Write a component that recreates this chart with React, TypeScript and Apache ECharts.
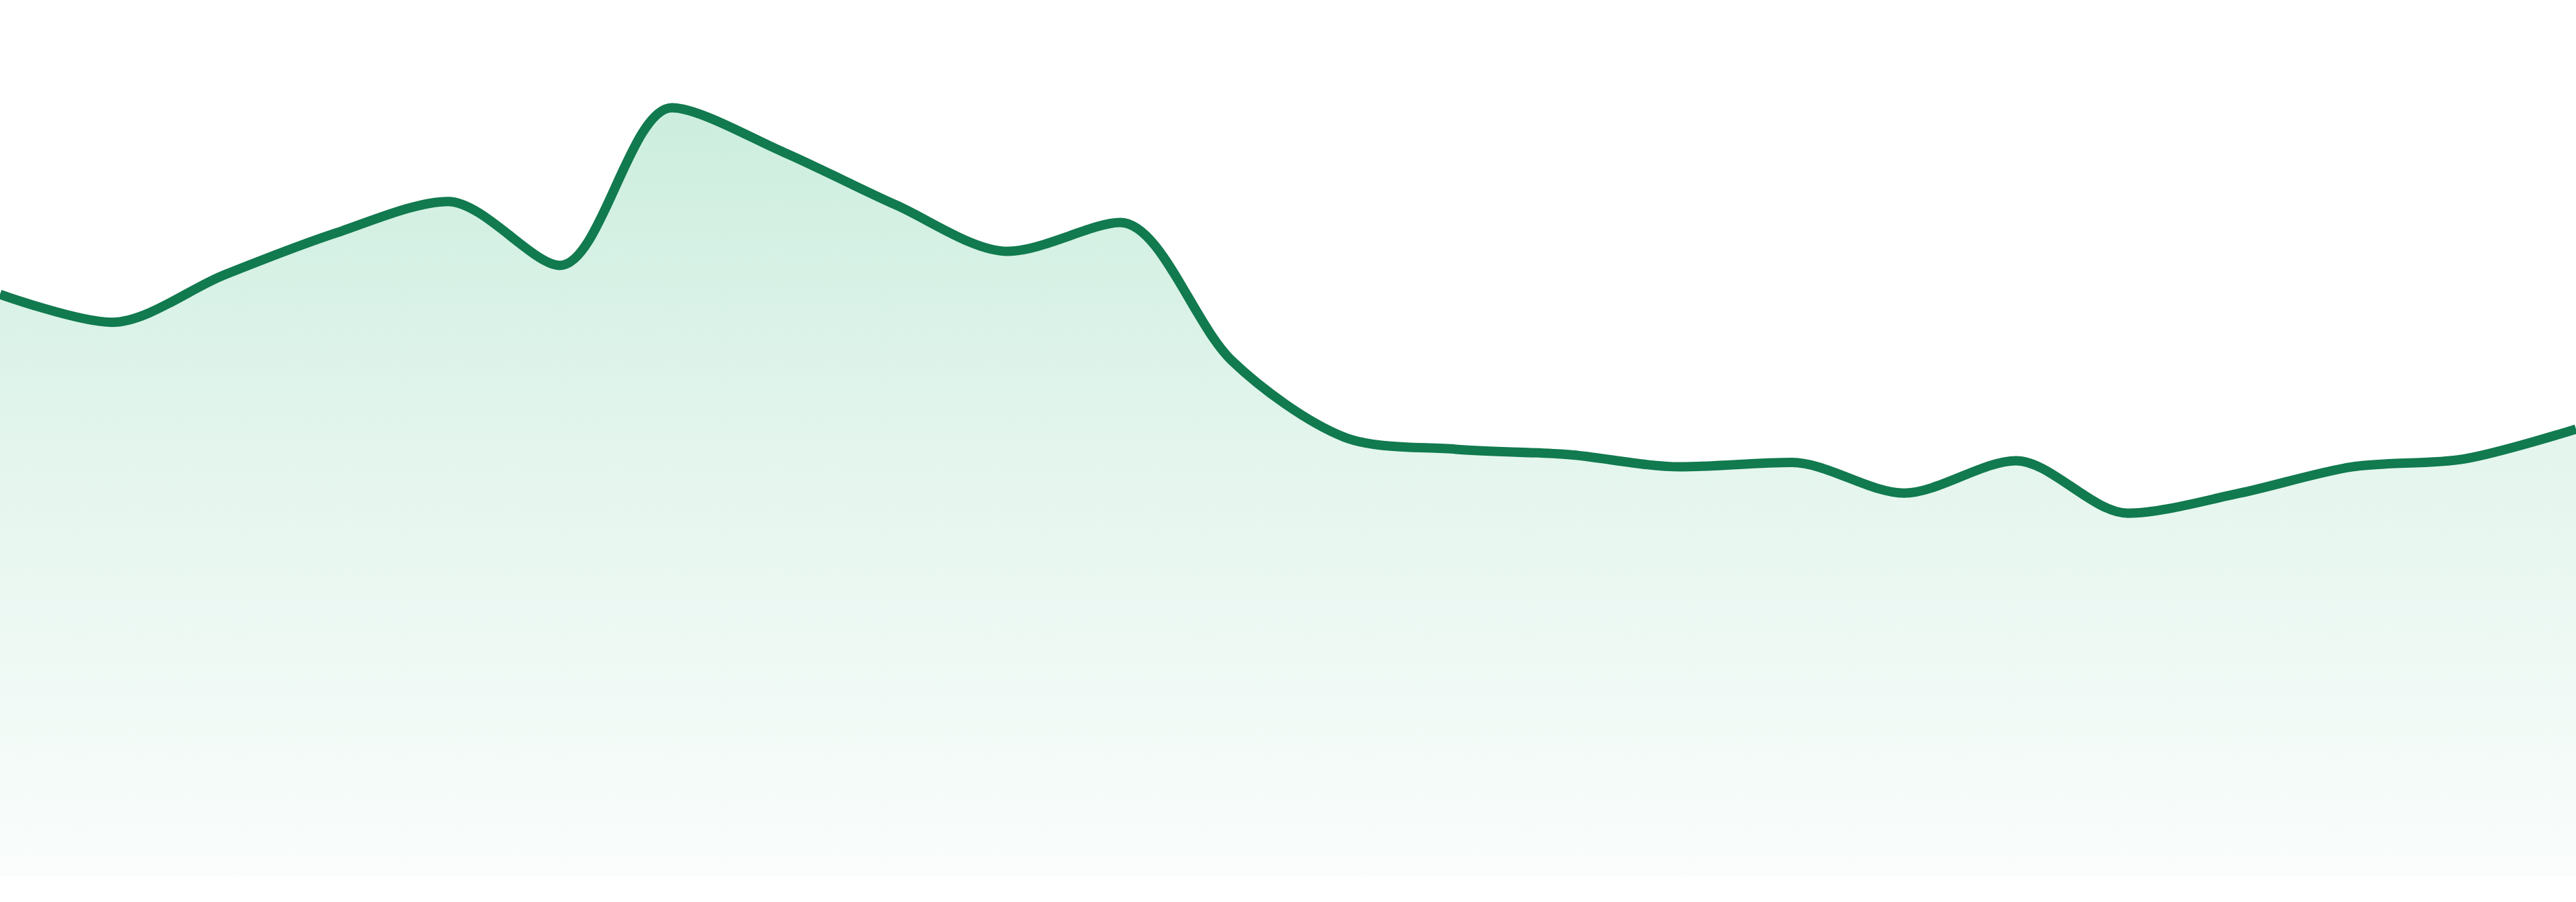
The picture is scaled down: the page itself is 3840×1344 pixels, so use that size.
import React, { useEffect, useRef } from 'react';
import * as echarts from 'echarts';
import type { EChartsOption } from 'echarts';

// hourly readings, axes are hidden in the original
const hours = [
  '00:00', '01:00', '02:00', '03:00', '04:00', '05:00', '06:00', '07:00',
  '08:00', '09:00', '10:00', '11:00', '12:00', '13:00', '14:00', '15:00',
  '16:00', '17:00', '18:00', '19:00', '20:00', '21:00', '22:00', '23:00',
];

const values = [
  66.4, 63.2, 68.6, 73.4, 77.0, 69.7, 87.7, 82.6,
  76.6, 71.3, 74.6, 58.8, 50.1, 48.7, 48.1, 46.7,
  47.2, 43.7, 47.4, 41.4, 43.7, 46.7, 47.6, 51.0,
];

const yRange = [0, 100];

const LINE   = '#117a4f';
const FILL_T = '#b6e6d0';
const FILL_M = '#d8f1e6';
const FILL_B = '#f8fcfa';

export default function App() {
  const ref = useRef<HTMLDivElement>(null);

  useEffect(() => {
    if (!ref.current) return;
    const chart = echarts.init(ref.current, null, { renderer: 'svg' });

    const option: EChartsOption = {
      animation: false,
      backgroundColor: '#ffffff',
      grid: { left: 0, right: 0, top: 0, bottom: 39, containLabel: false },
      xAxis: {
        type: 'category',
        data: hours,
        boundaryGap: false,
        show: false,
      },
      yAxis: {
        type: 'value',
        min: yRange[0],
        max: yRange[1],
        show: false,
      },
      series: [
        {
          type: 'line',
          data: values,
          smooth: 0.3,
          symbol: 'none',
          lineStyle: { color: LINE, width: 14 },
          areaStyle: {
            color: new echarts.graphic.LinearGradient(0, 0, 0, 1, [
              { offset: 0, color: FILL_T },
              { offset: 0.45, color: FILL_M },
              { offset: 1, color: FILL_B },
            ]),
          },
        },
      ],
    };

    chart.setOption(option);
    const onResize = () => chart.resize();
    window.addEventListener('resize', onResize);
    return () => {
      window.removeEventListener('resize', onResize);
      chart.dispose();
    };
  }, []);

  return (
    <div
      ref={ref}
      style={{ position: 'fixed', left: 0, top: 0, width: '100vw', height: '100vh' }}
    />
  );
}
